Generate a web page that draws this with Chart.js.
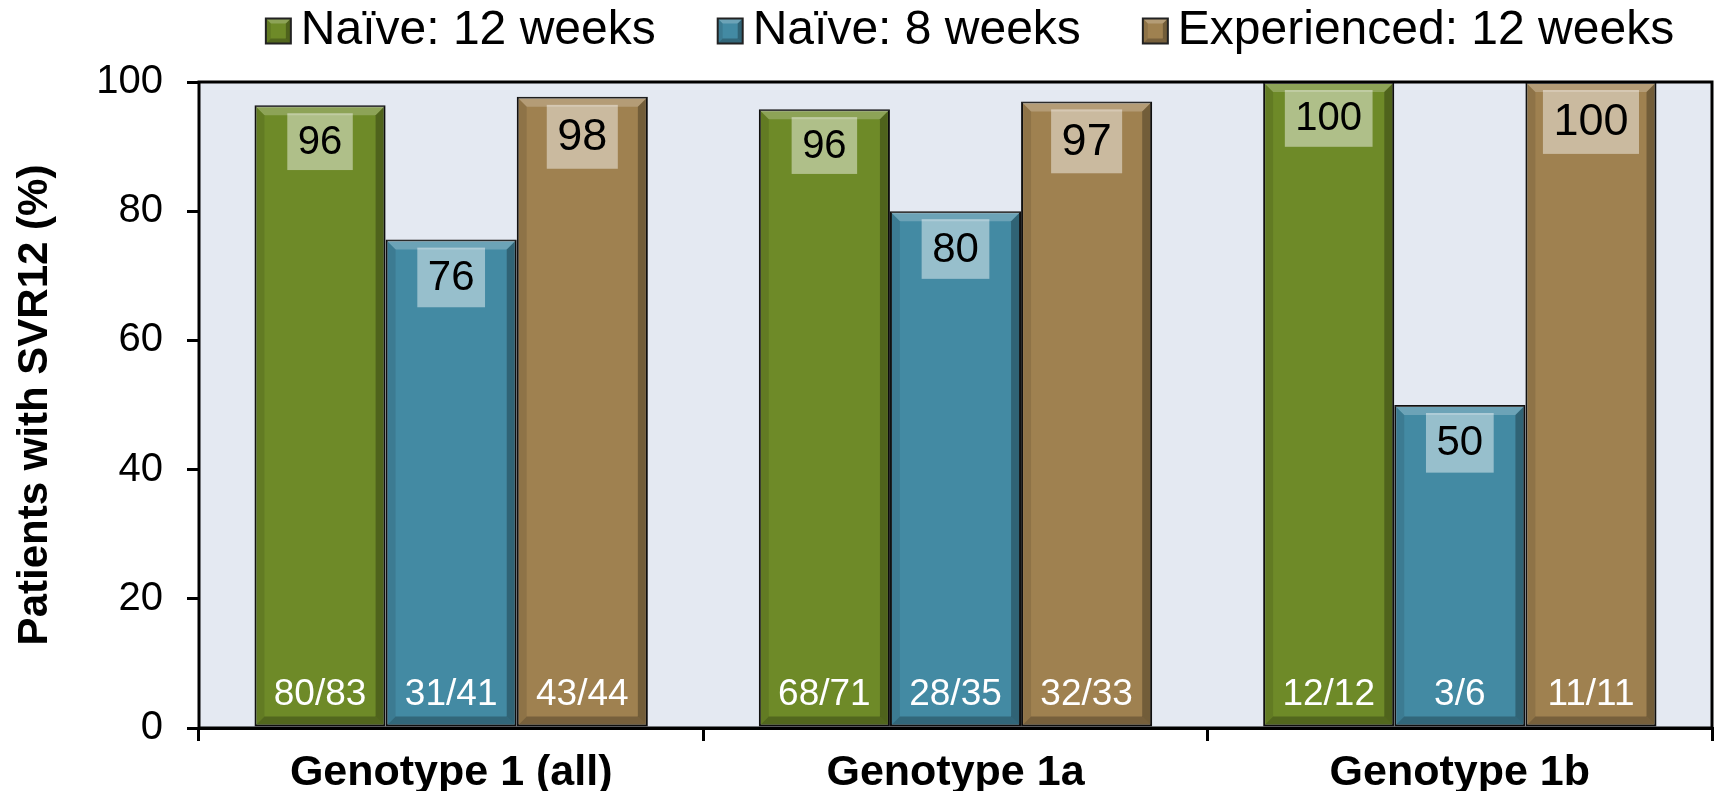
<!DOCTYPE html>
<html>
<head>
<meta charset="utf-8">
<script src="https://cdn.jsdelivr.net/npm/chart.js@4.4.1/dist/chart.umd.min.js"></script>
<style>
  html, body { margin: 0; padding: 0; background: #fff; }
  #wrap { width: 1719px; height: 791px; }
</style>
</head>
<body>
<div id="wrap"><canvas id="chart"></canvas></div>
<script>
// Chart data (bar heights follow n/N, labels are rounded).
var categories = ['Genotype 1 (all)', 'Genotype 1a', 'Genotype 1b'];
var seriesNames = ['Naïve: 12 weeks', 'Naïve: 8 weeks', 'Experienced: 12 weeks'];
var naive12 = [96.4, 95.8, 100];
var naive8 = [75.6, 80, 50];
var experienced12 = [97.7, 97, 100];
var naive12Counts = ['80/83', '68/71', '12/12'];
var naive8Counts = ['31/41', '28/35', '3/6'];
var experienced12Counts = ['43/44', '32/33', '11/11'];
var yTicks = [0, 20, 40, 60, 80, 100];
var yTitle = 'Patients with SVR12 (%)';

(function () {
  var FONT = "'Liberation Sans', Arial, sans-serif";
  var colors = ['#6e8a28', '#438aa3', '#9f8150'];
  var valueFont = [40, 42, 45];
  var counts = [naive12Counts, naive8Counts, experienced12Counts];

  // plot background and frame
  var framePlugin = {
    id: 'frame',
    beforeDatasetsDraw: function (chart) {
      var a = chart.chartArea, ctx = chart.ctx;
      ctx.save();
      ctx.fillStyle = '#e4e9f2';
      ctx.fillRect(a.left, a.top, a.right - a.left, a.bottom - a.top);
      ctx.restore();
    },
    afterDatasetsDraw: function (chart) {
      var a = chart.chartArea, ctx = chart.ctx;
      ctx.save();
      ctx.strokeStyle = '#000';
      ctx.lineWidth = 3;
      ctx.strokeRect(a.left, a.top, a.right - a.left, a.bottom - a.top);
      ctx.restore();
    }
  };

  function poly(ctx, pts, fill) {
    ctx.beginPath();
    ctx.moveTo(pts[0][0], pts[0][1]);
    for (var i = 1; i < pts.length; i++) ctx.lineTo(pts[i][0], pts[i][1]);
    ctx.closePath();
    ctx.fillStyle = fill;
    ctx.fill();
  }

  function bevel(ctx, l, t, r, b, s) {
    poly(ctx, [[l, t], [r, t], [r - s, t + s], [l + s, t + s]], 'rgba(255,255,255,0.22)');
    poly(ctx, [[r, t], [r, b], [r - s, b - s], [r - s, t + s]], 'rgba(0,0,0,0.28)');
    poly(ctx, [[l, b], [r, b], [r - s, b - s], [l + s, b - s]], 'rgba(0,0,0,0.25)');
    poly(ctx, [[l, t], [l + s, t + s], [l + s, b - s], [l, b]], 'rgba(0,0,0,0.10)');
  }

  // bevel on each bar, value box near the top, n/N at the bottom
  var barDecor = {
    id: 'barDecor',
    afterDatasetsDraw: function (chart) {
      var ctx = chart.ctx;
      ctx.save();
      chart.data.datasets.forEach(function (ds, di) {
        var meta = chart.getDatasetMeta(di);
        meta.data.forEach(function (el, i) {
          var p = el.getProps(['x', 'y', 'base', 'width'], true);
          var l = p.x - p.width / 2 + 1, r = p.x + p.width / 2 - 1;
          var t = p.y + 1, b = p.base - 1;
          bevel(ctx, l, t, r, b, 9);

          var fs = valueFont[di];
          ctx.font = fs + 'px ' + FONT;
          var txt = String(Math.round(ds.data[i]));
          var w = ctx.measureText(txt).width + 21;
          var h = fs * 1.42;
          var top = p.y + 8;
          ctx.fillStyle = 'rgba(255,255,255,0.45)';
          ctx.fillRect(p.x - w / 2, top, w, h);
          ctx.fillStyle = '#000';
          ctx.textAlign = 'center';
          ctx.textBaseline = 'middle';
          ctx.fillText(txt, p.x, top + h / 2 + 1);

          ctx.font = '37px ' + FONT;
          ctx.fillStyle = '#fff';
          ctx.fillText(counts[di][i], p.x, p.base - 32);
        });
      });
      ctx.restore();
    }
  };

  // legend: small bevelled square + label, centred over the plot
  var legendPlugin = {
    id: 'topLegend',
    afterDraw: function (chart) {
      var ctx = chart.ctx;
      var box = 25, gap = 10, itemGap = 62, fs = 48, cy = 31;
      ctx.save();
      ctx.font = fs + 'px ' + FONT;
      var widths = chart.data.datasets.map(function (ds) {
        return box + gap + ctx.measureText(ds.label).width;
      });
      var total = widths.reduce(function (s, v) { return s + v; }, 0) + itemGap * (widths.length - 1);
      var x = 970 - total / 2;
      chart.data.datasets.forEach(function (ds, di) {
        var bx = x, by = cy - box / 2;
        ctx.fillStyle = ds.backgroundColor;
        ctx.fillRect(bx, by, box, box);
        bevel(ctx, bx, by, bx + box, by + box, 5);
        ctx.strokeStyle = '#222';
        ctx.lineWidth = 2;
        ctx.strokeRect(bx, by, box, box);
        ctx.fillStyle = '#000';
        ctx.textAlign = 'left';
        ctx.textBaseline = 'middle';
        ctx.fillText(ds.label, bx + box + gap, cy);
        x += widths[di] + itemGap;
      });
      ctx.restore();
    }
  };

  var datasets = [naive12, naive8, experienced12].map(function (vals, i) {
    return {
      label: seriesNames[i],
      data: vals,
      backgroundColor: colors[i],
      borderColor: '#111',
      borderWidth: 2,
      borderSkipped: false,
      barPercentage: 1,
      categoryPercentage: 0.78
    };
  });

  new Chart(document.getElementById('chart'), {
    type: 'bar',
    data: { labels: categories, datasets: datasets },
    options: {
      responsive: true,
      maintainAspectRatio: false,
      animation: false,
      layout: { padding: { top: 82, right: 7, bottom: 0, left: 0 } },
      plugins: {
        legend: { display: false },
        tooltip: { enabled: false }
      },
      scales: {
        x: {
          afterFit: function (s) { s.height = 63; },
          grid: { offset: true, drawOnChartArea: false, drawTicks: true, tickLength: 13, lineWidth: 3, color: '#000' },
          border: { display: true, color: '#000', width: 3 },
          ticks: { color: '#000', padding: 6, font: { family: FONT, size: 43, weight: 'bold' } }
        },
        y: {
          min: 0,
          max: 100,
          afterFit: function (s) { s.width = 199; },
          afterBuildTicks: function (s) { s.ticks = yTicks.map(function (v) { return { value: v }; }); },
          grid: { drawOnChartArea: false, drawTicks: true, tickLength: 12, lineWidth: 3, color: '#000' },
          border: { display: true, color: '#000', width: 3 },
          ticks: { color: '#000', padding: 24, font: { family: FONT, size: 40 } },
          title: {
            display: true,
            text: yTitle,
            color: '#000',
            padding: { top: 10, bottom: 0 },
            font: { family: FONT, size: 42, weight: 'bold' }
          }
        }
      }
    },
    plugins: [framePlugin, barDecor, legendPlugin]
  });
})();
</script>
</body>
</html>
